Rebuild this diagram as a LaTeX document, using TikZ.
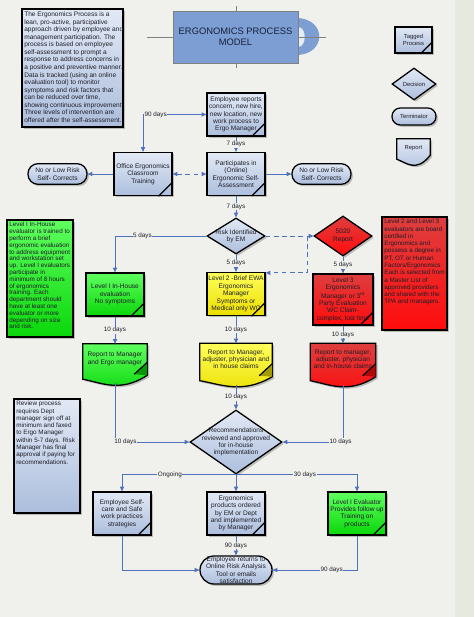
\documentclass[tikz,border=0pt]{standalone}
\usepackage{fontspec}
\setmainfont{Liberation Sans}
\usepackage{tikz}
\usetikzlibrary{arrows.meta,positioning,shapes.geometric,shadows,calc,backgrounds}

\definecolor{bgc}{RGB}{240,241,237}
\definecolor{bgr}{RGB}{229,233,223}
\definecolor{lnblue}{RGB}{79,114,189}
\definecolor{bluetop}{RGB}{226,233,245}
\definecolor{bluebot}{RGB}{172,190,221}
\definecolor{titleblue}{RGB}{125,158,211}
\definecolor{grtop}{RGB}{95,255,95}
\definecolor{grbot}{RGB}{10,215,10}
\definecolor{yetop}{RGB}{255,255,90}
\definecolor{yebot}{RGB}{235,222,0}
\definecolor{retop}{RGB}{222,62,62}
\definecolor{rebot}{RGB}{255,12,12}
\definecolor{txt}{RGB}{30,30,40}
\definecolor{ttxt}{RGB}{22,32,62}

\begin{document}
\begin{tikzpicture}[x=0.03cm,y=-0.03cm,>={Triangle[length=4pt,width=3.6pt]},
  every node/.style={text=txt,font=\fontsize{5.6}{6.3}\selectfont},
  shd/.style={drop shadow={shadow xshift=1.6pt,shadow yshift=-1.6pt,opacity=0.22,fill=black}},
  proc/.style={rectangle,draw,line width=1.1pt,shd,align=center,inner sep=1pt,minimum width=1.74cm,minimum height=1.29cm},
  bproc/.style={proc,top color=bluetop,bottom color=bluebot},
  gproc/.style={proc,top color=grtop,bottom color=grbot},
  yproc/.style={proc,top color=yetop,bottom color=yebot},
  rproc/.style={proc,top color=retop,bottom color=rebot},
  term/.style={rectangle,draw,line width=1.1pt,shd,rounded corners=0.3cm,top color=bluetop,bottom color=bluebot,align=center,inner sep=0pt,minimum width=1.77cm,minimum height=0.62cm},
  dec/.style={diamond,draw,line width=1.1pt,shd,inner sep=0pt},
  rep/.style={rectangle,inner sep=0pt},
  note/.style={rectangle,draw,line width=1.3pt,shd,inner sep=2pt,font=\fontsize{5.4}{6.2}\selectfont},
  conn/.style={draw=lnblue,line width=0.8pt},
  dsh/.style={conn,dash pattern=on 4pt off 3pt},
  lbl/.style={fill=bgc,inner sep=0.5pt,font=\fontsize{5.4}{6}\selectfont}]

\begin{scope}[on background layer]
\fill[bgc] (0,0) rectangle (474,617);
\fill[bgr] (455,0) rectangle (474,617);
\end{scope}
\useasboundingbox (0,0) rectangle (474,617);

% title
\fill[titleblue] (296,18) .. controls (327,18) and (327,55) .. (296,55) -- cycle;
\fill[white!80!titleblue] (298,27) .. controls (307,27) and (307,47) .. (298,47) -- cycle;
\draw[gray,line width=0.7pt] (147,37) -- (326,37) (236,6) -- (236,68);
\node[draw=black!50,line width=0.5pt,fill=titleblue,align=center,minimum width=3.75cm,minimum height=1.56cm,font=\fontsize{8}{9.6}\selectfont,text=ttxt] (ttl) at (235.5,37) {ERGONOMICS PROCESS\\MODEL};

% legend
\node[bproc,minimum width=1.11cm,minimum height=0.78cm,font=\fontsize{5}{5.8}\selectfont] (lgTag) at (413.5,40) {Tagged\\Process};
\node[dec,top color=bluetop,bottom color=bluebot,minimum width=1.32cm,minimum height=0.96cm,label={[font=\fontsize{5}{5.8}\selectfont]center:Decision}] (lgDec) at (414,84) {};
\node[term,minimum width=1.32cm,minimum height=0.51cm,rounded corners=0.25cm,font=\fontsize{5}{5.8}\selectfont] (lgTerm) at (414,116.5) {Terminator};
\node[rep,minimum width=0.99cm,minimum height=0.72cm,label={[yshift=0.09cm,font=\fontsize{5}{5.8}\selectfont]center:Report}] (lgRep) at (413.5,151) {};

% text boxes
\node[note,top color=bluetop,bottom color=bluebot,font=\fontsize{5.6}{6.45}\selectfont] (intro) at (72.5,68) {\parbox[c][3.40cm][t]{2.89cm}{\begin{tabular}{@{}l@{}}The Ergonomics Process is a\\lean, pro-active, participative\\approach driven by employee and\\management participation. The\\process is based on employee\\self-assessment to prompt a\\response to address concerns in\\a positive and preventive manner.\\Data is tracked (using an online\\evaluation tool) to monitor\\symptoms and risk factors that\\can be reduced over time,\\showing continuous improvement.\\Three levels of intervention are\\offered after the self-assessment.\end{tabular}}};
\node[note,top color=grtop,bottom color=grbot,font=\fontsize{5.4}{5.8}\selectfont] (lvtxt) at (40,278.5) {\parbox[c][3.37cm][t]{1.84cm}{Level I In-House\\evaluator is trained to\\perform a brief\\ergonomic evaluation\\to address equipment\\and workstation set\\up. Level I evaluators\\participate in\\minimum of 8 hours\\of ergonomics\\training.  Each\\department should\\have at least one\\evaluator or more\\depending on size\\and risk.}};
\node[note,top color=retop,bottom color=rebot] (redtxt) at (414.5,273.5) {\parbox[c][3.25cm][t]{1.81cm}{Level 2 and Level 3\\evaluators are board\\certified in\\Ergonomics and\\possess a degree in\\PT, OT or Human\\Factors/Ergonomics\\Each is selected from\\a Master List of\\approved providers\\and shared with the\\TPA and managers.}};
\node[note,top color=bluetop,bottom color=bluebot] (rev) at (47,456) {\parbox[c][3.28cm][t]{1.84cm}{Review process\\requires Dept\\manager sign off at\\minimum and faxed\\to Ergo Manager\\within 5-7 days. Risk\\Manager has final\\approval if paying for\\recommendations.}};

% flow
\node[bproc] (emp) at (236,114.5) {Employee reports\\concern, new hire,\\new location, new\\work process to\\Ergo Manager};
\node[bproc] (off) at (143,174) {Office Ergonomics\\Classroom\\Training};
\node[bproc] (par) at (236,174) {Participates in\\(Online)\\Ergonomic Self-\\Assessment};
\node[term] (nlL) at (57.5,174) {No or Low Risk\\Self- Corrects};
\node[term] (nlR) at (321.5,174) {No or Low Risk\\Self- Corrects};
\node[dec,top color=bluetop,bottom color=bluebot,minimum width=1.74cm,minimum height=1.08cm,label={[align=center]center:{Risk Identified\\by EM}}] (risk) at (236,236) {};
\node[dec,top color=retop,bottom color=rebot,minimum width=1.74cm,minimum height=1.2cm,label={[align=center]center:{5020\\Report}}] (rep5020) at (343,236) {};
\node[gproc] (lv1) at (115,294.5) {Level I In-House\\evaluation\\No symptoms};
\node[yproc] (lv2) at (236,294) {Level 2 -Brief EWA\\Ergonomics\\Manager\\Symptoms or\\Medical only WC};
\node[rproc,minimum width=1.8cm,minimum height=1.53cm] (lv3) at (343,299.5) {Level 3\\Ergonomics\\Manager or 3\textsuperscript{rd}\\Party Evaluation\\WC Claim-\\complex, lost time};
\node[rep,minimum width=1.92cm,minimum height=1.17cm,label={[align=center,yshift=0.14cm]center:{Report to Manager\\and Ergo manager}}] (rg) at (115,363.5) {};
\node[rep,minimum width=2.16cm,minimum height=1.23cm,label={[align=center,yshift=0.14cm]center:{Report to Manager,\\adjuster, physician and\\in house claims}}] (ry) at (236,364) {};
\node[rep,minimum width=1.95cm,minimum height=1.23cm,label={[align=center,yshift=0.14cm]center:{Report to  manager,\\adjuster, physician\\and in-house claims}}] (rr) at (343,364) {};
\node[dec,top color=bluetop,bottom color=bluebot,minimum width=2.76cm,minimum height=1.92cm,label={[align=center]center:{Recommendations\\reviewed and approved\\for in-house\\implementation}}] (rec) at (236,442) {};
\node[bproc] (self) at (122,513.5) {Employee Self-\\care and Safe\\work practices\\strategies};
\node[bproc] (prod) at (236,513.5) {Ergonomics\\products ordered\\by EM  or Dept\\and implemented\\by Manager};
\node[gproc] (eval) at (357,513.5) {Level I Evaluator\\Provides follow up\\Training  on\\products};
\node[term,minimum width=2.16cm,minimum height=0.84cm,rounded corners=0.42cm,label={[align=center]center:{Employee returns to\\Online Risk Analysis\\Tool or emails\\satisfaction}}] (ret) at (236,570) {};

% report shapes
\begin{scope}[on background layer]
\foreach \n/\ct/\cb in {rg/grtop/grbot,ry/yetop/yebot,rr/retop/rebot,lgRep/bluetop/bluebot}
  \draw[line width=1.1pt,top color=\ct,bottom color=\cb,shd] (\n.north west) -- (\n.north east) -- ($(\n.south east)+(0,-8)$) .. controls ($(\n.south east)!0.42!(\n.south west)+(0,10)$) and ($(\n.south west)!0.27!(\n.south east)+(0,-1)$) .. ($(\n.south west)+(0,-4)$) -- cycle;
\end{scope}
\foreach \n/\cc in {rg/grbot,ry/yebot,rr/rebot} {
  \fill[\cc!70!black] ($(\n.south east)+(0,-21)$) -- ($(\n.south east)+(-13,-9)$) -- ($(\n.south east)+(0,-8)$) -- cycle;
  \draw[line width=1pt] ($(\n.south east)+(0,-21)$) -- ($(\n.south east)+(-13,-9)$);
}
\foreach \n in {emp,off,par,lv1,lv2,lv3,self,prod,eval}
  \draw[line width=1.1pt] ([xshift=-0.42cm]\n.south east) -- ([yshift=0.42cm]\n.south east);
\draw[line width=1.1pt] ([xshift=-0.36cm]lgTag.south east) -- ([yshift=0.36cm]lgTag.south east);

% connectors
\draw[conn,<->] (off.north) |- node[lbl,pos=0.6]{90 days} (emp.west);
\draw[conn,->] (emp) -- node[lbl]{7 days} (par);
\draw[dsh,<->] (off) -- (par);
\draw[conn,->] (off) -- (nlL);
\draw[conn,->] (par) -- (nlR);
\draw[conn,->] (par) -- node[lbl]{7 days} (risk);
\draw[conn,->] (risk.west) -| node[lbl,pos=0.35]{5 days} (lv1.north);
\draw[conn,->] (risk) -- node[lbl]{5 days} (lv2);
\draw[dsh,->] (risk.east) -- (rep5020.west);
\coordinate (dj) at (307,236);
\draw[dsh,->] (dj) |- ($(lv2.north east)+(0,1)$);
\draw[conn,->] (rep5020) -- node[lbl]{5 days} (lv3);
\draw[conn,->] (lv1) -- node[lbl]{10 days} (rg);
\draw[conn,->] (lv2) -- node[lbl]{10 days} (ry);
\draw[conn,->] (lv3) -- node[lbl]{10 days} (rr);
\draw[conn,->] (rg.south) |- node[lbl,pos=0.57]{10 days} (rec.west);
\draw[conn,->] (ry) -- node[lbl]{10 days} (rec);
\draw[conn,->] (rr.south) |- node[lbl,pos=0.52]{10 days} (rec.east);
\draw[conn,->] (rec.south) -| node[lbl,pos=0.29]{Ongoing} (self.north);
\draw[conn,->] (rec.south) -- (prod.north);
\draw[conn,->] (rec.south) -| node[lbl,pos=0.285]{30 days} (eval.north);
\draw[conn,->] (prod) -- node[lbl]{90 days} (ret);
\draw[conn,->] (self.south) |- (ret.west);
\draw[conn,->] (eval.south) |- node[lbl,pos=0.65]{90 days} (ret.east);
\end{tikzpicture}
\end{document}
